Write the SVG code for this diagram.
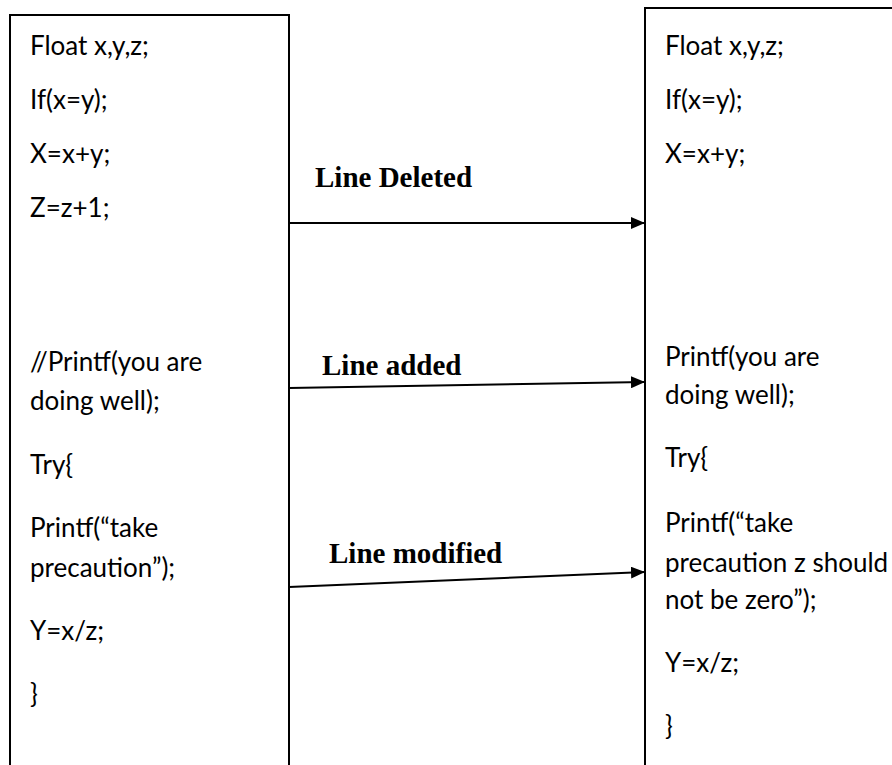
<svg xmlns="http://www.w3.org/2000/svg" width="892" height="765" viewBox="0 0 892 765">
  <style>
    .box { fill: #ffffff; stroke: #000000; stroke-width: 2; }
    .code { font-family: Lato, "Liberation Sans", sans-serif; font-size: 26px; fill: #000000; }
    .lbl { font-family: "Liberation Serif", "Times New Roman", serif; font-size: 29px; font-weight: bold; fill: #000000; }
    .conn { stroke: #000000; stroke-width: 2; fill: none; }
  </style>
  <defs>
    <marker id="arrow" markerUnits="userSpaceOnUse" markerWidth="16" markerHeight="12" refX="14" refY="6" orient="auto">
      <path d="M0,0 L14,6 L0,12 Z" fill="#000000"/>
    </marker>
  </defs>
  <rect width="892" height="765" fill="#ffffff"/>

  <g id="old-code">
    <rect class="box" x="10" y="15" width="279" height="770"/>
    <text class="code" x="30" y="55">Float x,y,z;</text>
    <text class="code" x="30" y="109">If(x=y);</text>
    <text class="code" x="30" y="163">X=x+y;</text>
    <text class="code" x="30" y="217">Z=z+1;</text>
    <text class="code" x="30" y="371">//Printf(you are</text>
    <text class="code" x="30" y="410">doing well);</text>
    <text class="code" x="30" y="474">Try{</text>
    <text class="code" x="30" y="537">Printf(“take</text>
    <text class="code" x="30" y="577">precaution”);</text>
    <text class="code" x="30" y="640">Y=x/z;</text>
    <text class="code" x="30" y="703">}</text>
  </g>

  <g id="new-code">
    <rect class="box" x="645" y="8" width="260" height="780"/>
    <text class="code" x="665" y="55">Float x,y,z;</text>
    <text class="code" x="665" y="109">If(x=y);</text>
    <text class="code" x="665" y="163">X=x+y;</text>
    <text class="code" x="665" y="366">Printf(you are</text>
    <text class="code" x="665" y="404">doing well);</text>
    <text class="code" x="665" y="467">Try{</text>
    <text class="code" x="665" y="532">Printf(“take</text>
    <text class="code" x="665" y="572">precaution z should</text>
    <text class="code" x="665" y="609">not be zero”);</text>
    <text class="code" x="665" y="672">Y=x/z;</text>
    <text class="code" x="665" y="735">}</text>
  </g>

  <g id="connectors">
    <line class="conn" x1="289" y1="223" x2="645" y2="223" marker-end="url(#arrow)"/>
    <line class="conn" x1="289" y1="388" x2="645" y2="382" marker-end="url(#arrow)"/>
    <line class="conn" x1="289" y1="587" x2="645" y2="572" marker-end="url(#arrow)"/>
    <text class="lbl" x="315" y="187">Line Deleted</text>
    <text class="lbl" x="322" y="375">Line added</text>
    <text class="lbl" x="329" y="563">Line modified</text>
  </g>
</svg>
